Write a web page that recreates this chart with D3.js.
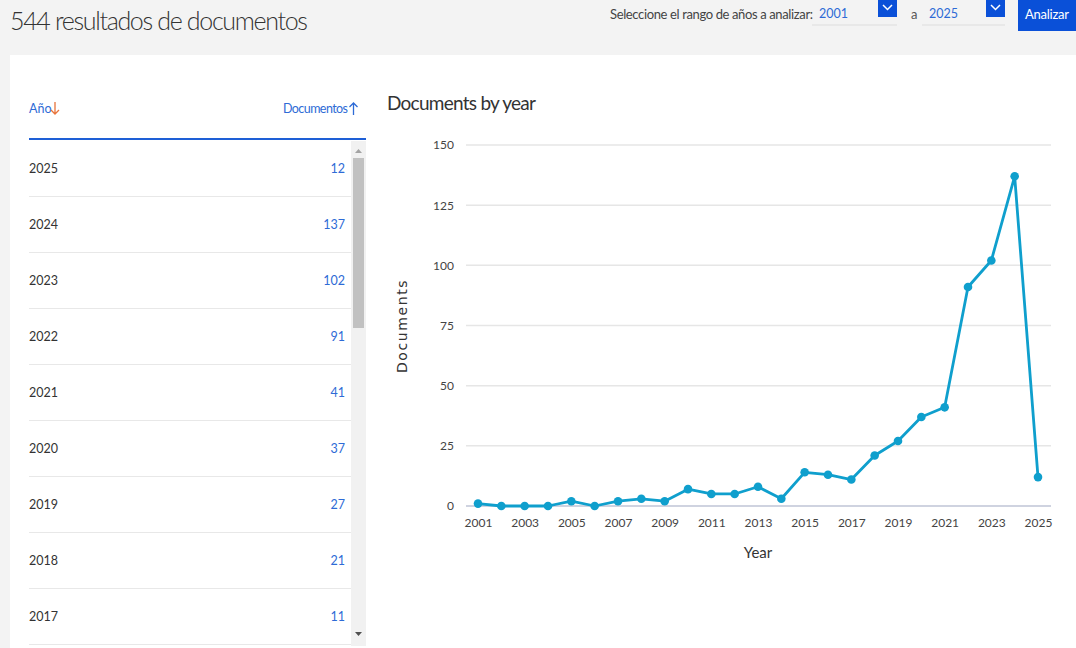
<!DOCTYPE html>
<html><head><meta charset="utf-8">
<script src="https://cdn.jsdelivr.net/npm/d3@7"></script>
<style>
html,body{margin:0;padding:0;background:#f3f3f3;width:1076px;height:648px;overflow:hidden;}
svg{display:block;}
text{font-family:Lato,sans-serif;}
</style></head><body>
<svg id="c" width="1076" height="648"></svg>
<script>
const years = [2001,2002,2003,2004,2005,2006,2007,2008,2009,2010,2011,2012,2013,2014,2015,2016,2017,2018,2019,2020,2021,2022,2023,2024,2025];
const documents = [1,0,0,0,2,0,2,3,2,7,5,5,8,3,14,13,11,21,27,37,41,91,102,137,12];
const yTicks = [0,25,50,75,100,125,150];
const xTickYears = [2001,2003,2005,2007,2009,2011,2013,2015,2017,2019,2021,2023,2025];
const tableYears = [2025,2024,2023,2022,2021,2020,2019,2018,2017];

const FONT = "Lato, sans-serif";
const svg = d3.select("#c");
svg.style("font-family", FONT);
const blue = "#2e6bd6";
const lineColor = "#0f9fcd";

// white panel
svg.append("rect").attr("x",10).attr("y",55).attr("width",1066).attr("height",600).attr("fill","#fff");

function T(x, y, size, fill, txt, anchor){
  return svg.append("text").attr("x",x).attr("y",y).attr("font-size",size).attr("fill",fill)
    .attr("text-anchor",anchor||"start").style("font-family",FONT).text(txt);
}

// header
T(10,30,25,"#333",d3.sum(documents)+" resultados de documentos").attr("textLength",298).attr("font-weight",300);
T(813,19,13,"#444","Seleccione el rango de años a analizar:","end").attr("textLength",203);
function selectBox(x0, x1, label){
  T(x0+7,18,12.5,blue,label);
  svg.append("line").attr("x1",x0).attr("x2",x1).attr("y1",25).attr("y2",25).attr("stroke","#ddd");
  svg.append("rect").attr("x",x1-19).attr("y",0).attr("width",19).attr("height",17).attr("fill","#0a50d8");
  svg.append("path").attr("d",`M${x1-14},5 L${x1-9.5},9.5 L${x1-5},5`).attr("fill","none").attr("stroke","#fff").attr("stroke-width",1.5);
}
selectBox(812,897,years[0]);
T(911,19,13,"#555","a");
selectBox(922,1005,years[years.length-1]);
svg.append("rect").attr("x",1018).attr("y",0).attr("width",58).attr("height",31).attr("fill","#0a50d8");
T(1047,19,13,"#fff","Analizar","middle").attr("textLength",44);

// table
T(29,113,12.5,blue,"Año");
svg.append("path").attr("d","M55,102 L55,114 M51,110 L55,114 L59,110").attr("fill","none").attr("stroke","#e8743b").attr("stroke-width",1.3);
T(348,113,12.5,blue,"Documentos","end").attr("textLength",65);
svg.append("path").attr("d","M353.5,103 L353.5,115 M349.5,107 L353.5,103 L357.5,107").attr("fill","none").attr("stroke",blue).attr("stroke-width",1.3);
svg.append("line").attr("x1",29).attr("x2",366).attr("y1",139).attr("y2",139).attr("stroke","#1e5fd6").attr("stroke-width",2);
const rowY = d3.scaleLinear().domain([0,1]).range([168,224]);
const docByYear = new Map(years.map((y,i)=>[y,documents[i]]));
tableYears.forEach((yr,i)=>{
  const y = rowY(i);
  T(29,y+5,12.5,"#333",yr);
  T(345,y+5,12.5,blue,docByYear.get(yr),"end");
  svg.append("line").attr("x1",29).attr("x2",351).attr("y1",y+28.5).attr("y2",y+28.5).attr("stroke","#e8e8e8");
});
// scrollbar
svg.append("rect").attr("x",351).attr("y",141).attr("width",15).attr("height",505).attr("fill","#f1f1f1");
svg.append("rect").attr("x",353).attr("y",158).attr("width",11).attr("height",170).attr("fill","#c1c1c1");
svg.append("path").attr("d","M355,153 L358.5,149 L362,153 Z").attr("fill","#a3a3a3");
svg.append("path").attr("d","M355,632 L358.5,636 L362,632 Z").attr("fill","#505050");

// chart
T(387,110,19,"#333","Documents by year").attr("textLength",149);
const x = d3.scaleLinear().domain([2001,2025]).range([478,1038]);
const y = d3.scaleLinear().domain([0,150]).range([506,145]);
const gx0 = 466, gx1 = 1051;

const grid = svg.append("g");
grid.selectAll("line").data(yTicks).join("line")
  .attr("x1",gx0).attr("x2",gx1).attr("y1",d=>y(d)).attr("y2",d=>y(d))
  .attr("stroke",d=>d===0?"#cfd3e0":"#e6e6e6").attr("stroke-width",d=>d===0?2:1.5);

const yAxis = svg.append("g").attr("transform",`translate(${gx0},0)`)
  .call(d3.axisLeft(y).tickValues(yTicks).tickSize(0).tickPadding(12));
yAxis.select(".domain").remove();
yAxis.selectAll("text").attr("font-size",12).attr("fill","#444").style("font-family",FONT);

const xAxis = svg.append("g").attr("transform",`translate(0,${y(0)})`)
  .call(d3.axisBottom(x).tickValues(xTickYears).tickFormat(d3.format("d")).tickSize(0).tickPadding(12));
xAxis.select(".domain").remove();
xAxis.selectAll("text").attr("font-size",12).attr("fill","#444").style("font-family",FONT);

T(758,558,15,"#333","Year","middle");
svg.append("text").attr("transform",`translate(407,326) rotate(-90)`).attr("text-anchor","middle")
  .attr("font-size",14).attr("letter-spacing",1.6).attr("fill","#333").style("font-family","DejaVu Sans, sans-serif").text("Documents");

const line = d3.line().x((d,i)=>x(years[i])).y(d=>y(d));
svg.append("path").datum(documents).attr("d",line).attr("fill","none").attr("stroke",lineColor).attr("stroke-width",2.8).attr("stroke-linejoin","round");
svg.append("g").selectAll("circle").data(documents).join("circle")
  .attr("cx",(d,i)=>x(years[i])).attr("cy",d=>y(d)).attr("r",4.3).attr("fill",lineColor);
</script>
</body></html>
